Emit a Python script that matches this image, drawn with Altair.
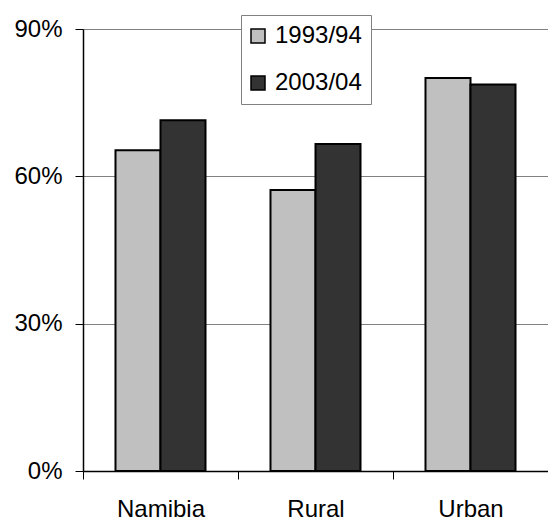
import altair as alt
import pandas as pd

# Share of households (%) by area and survey round
regions = ["Namibia", "Rural", "Urban"]
years = ["1993/94", "2003/04"]
share_1993 = [65.3, 57.2, 80.0]
share_2003 = [71.4, 66.6, 78.7]
y_ticks = [0, 30, 60, 90]
bar_colors = ["#C0C0C0", "#333333"]

rows = []
for i, r in enumerate(regions):
    rows.append({"region": r, "year": years[0], "share": share_1993[i]})
    rows.append({"region": r, "year": years[1], "share": share_2003[i]})
df = pd.DataFrame(rows)

FONT = "Liberation Sans"

chart = (
    alt.Chart(df)
    .mark_bar(stroke="black", strokeWidth=2)
    .encode(
        x=alt.X(
            "region:N",
            sort=regions,
            title=None,
            scale=alt.Scale(paddingInner=0, paddingOuter=0),
            axis=alt.Axis(
                labelAngle=0,
                labelFont=FONT,
                labelFontSize=24,
                labelColor="black",
                labelPadding=18,
                tickBand="extent",
                tickColor="black",
                tickSize=8,
                tickWidth=1,
                domainColor="black",
                domainWidth=1.5,
                grid=False,
            ),
        ),
        xOffset=alt.XOffset(
            "year:N",
            sort=years,
            scale=alt.Scale(paddingInner=0, paddingOuter=0.722),
        ),
        y=alt.Y(
            "share:Q",
            title=None,
            scale=alt.Scale(domain=[0, 90], nice=False),
            axis=alt.Axis(
                values=y_ticks,
                labelExpr="datum.value + '%'",
                labelFont=FONT,
                labelFontSize=24,
                labelColor="black",
                labelPadding=13,
                tickColor="black",
                tickSize=8,
                tickWidth=1,
                domainColor="black",
                domainWidth=1.5,
                grid=True,
                gridColor="#808080",
                gridWidth=1.2,
            ),
        ),
        color=alt.Color(
            "year:N",
            sort=years,
            scale=alt.Scale(domain=years, range=bar_colors),
            legend=alt.Legend(
                title=None,
                orient="none",
                legendX=158,
                legendY=-14,
                fillColor="white",
                strokeColor="#808080",
                padding=9,
                symbolType="square",
                symbolSize=196,
                symbolOffset=-4,
                symbolStrokeColor="black",
                symbolStrokeWidth=1.5,
                labelFont=FONT,
                labelFontSize=24,
                labelColor="black",
                labelOffset=5,
                rowPadding=23,
            ),
        ),
    )
    .properties(
        width=465,
        height=442,
        autosize=alt.AutoSizeParams(type="none"),
        padding={"left": 83, "top": 29, "right": 0, "bottom": 51},
        background="white",
    )
    .configure_view(stroke=None)
)

chart.save("out.html", embed_options={"renderer": "svg", "actions": False})
